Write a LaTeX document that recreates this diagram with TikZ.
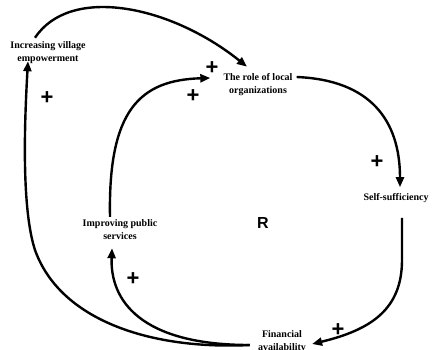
\documentclass[tikz,border=0pt]{standalone}
\usepackage{fontspec}
\setmainfont{Liberation Serif}
\newfontfamily\signfont{Liberation Sans}
\usetikzlibrary{arrows.meta}
\begin{document}
\begin{tikzpicture}[x=1pt,y=-1pt,
  var/.style={font=\bfseries\fontsize{10}{13}\selectfont, align=center, inner sep=1pt},
  link/.style={line width=2.4pt, -{Triangle[length=10pt,width=8pt]}},
  pol/.style={font=\signfont\bfseries\fontsize{22}{22}\selectfont, inner sep=0pt},
  loopmark/.style={font=\signfont\bfseries\fontsize{16}{16}\selectfont, inner sep=0pt}]
\useasboundingbox (0,0) rectangle (433,349);
\clip (0,0) rectangle (433,349);

% variables
\node[var] (emp)  at (48,53)   {Increasing village\\empowerment};
\node[var] (role) at (258,85)  {The role of local\\organizations};
\node[var] (self) at (396,198) {Self-sufficiency};
\node[var] (imp)  at (120,230) {Improving public\\services};
\node[var] (fin)  at (282,342) {Financial\\availability};

% loop identifier
\node[loopmark] (loop) at (263,223) {R};

% causal links
\draw[link] ([xshift=-13pt,yshift=3pt]emp.north)
  .. controls (70,-15) and (170,5) .. ([xshift=-11pt,yshift=6pt]role.north);
\draw[link] ([xshift=3pt,yshift=8pt]role.east)
  .. controls (370,80) and (400,120) .. ([xshift=4pt,yshift=5pt]self.north);
\draw[link] ([xshift=6pt,yshift=-14pt]self.south) -- (402,260)
  .. controls (402,310) and (370,330) .. ([xshift=5pt,yshift=-2pt]fin.east);
\draw[link] ([xshift=-7pt,yshift=-3pt]fin.west)
  .. controls (150,350) and (60,320) .. (35,250)
  .. controls (22,210) and (24,130) .. ([xshift=-20pt,yshift=4pt]emp.south);
\draw[link] ([xshift=-7pt,yshift=-3pt]fin.west)
  .. controls (140,345) and (110,300) .. ([xshift=-8pt,yshift=-7pt]imp.south);
\draw[link] ([xshift=-10pt,yshift=2pt]imp.north)
  .. controls (108,110) and (140,80) .. ([xshift=-12pt,yshift=7pt]role.west);

% link polarities
\node[pol] (p1) at (47,98)   {+};
\node[pol] (p2) at (212,68)  {+};
\node[pol] (p3) at (193,96)  {+};
\node[pol] (p4) at (377,162) {+};
\node[pol] (p5) at (133,279) {+};
\node[pol] (p6) at (338,330) {+};
\end{tikzpicture}
\end{document}
